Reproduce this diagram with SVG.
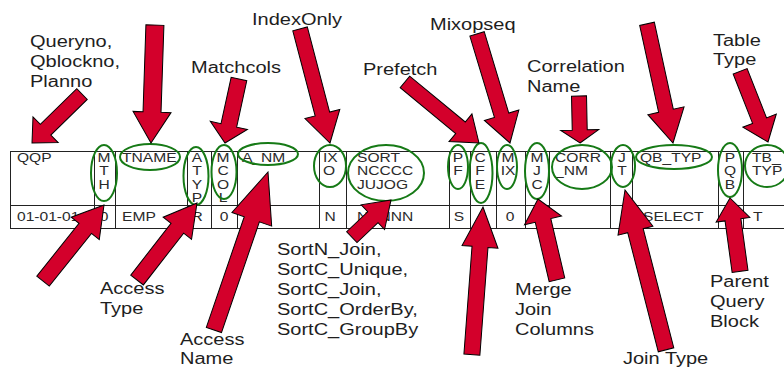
<svg xmlns="http://www.w3.org/2000/svg" width="784" height="369" viewBox="0 0 784 369">
  <style>
    .lbl { font-family: "Liberation Sans", Arial, sans-serif; font-size: 16px; fill: #1e1e1e; }
    .cell { font-family: "Liberation Sans", Arial, sans-serif; font-size: 13px; fill: #2a2a2a; }
    .mid { text-anchor: middle; }
    .grid { fill: none; stroke: #222; stroke-width: 1; }
    .ring { fill: none; stroke: #167a16; stroke-width: 2; }
    .arrow { fill: #d3002b; stroke: #000; stroke-width: 1; stroke-linejoin: miter; }
  </style>

  <rect width="784" height="369" fill="#fff"/>

  <!-- plan table -->
  <g id="table">
    <rect class="grid" x="10.5" y="151.5" width="780" height="77"/>
    <path class="grid" d="M10,205.5 H790
      M94.5,151 V228 M115.5,151 V228 M187.5,151 V228 M211.5,151 V228 M237.5,151 V228
      M319.5,151 V228 M346.5,151 V228 M449.5,151 V228 M470.5,151 V228 M496.5,151 V228
      M525.5,151 V228 M549.5,151 V228 M610.5,151 V228 M632.5,151 V228 M718.5,151 V228
      M743.5,151 V228"/>

    <!-- header row -->
    <g id="header">
      <text class="cell" transform="translate(17,162) scale(1.2,1)">QQP</text>
      <text class="cell mid" transform="translate(104,162) scale(1.2,1)"><tspan x="0">M</tspan><tspan x="0" dy="13.5">T</tspan><tspan x="0" dy="13.5">H</tspan></text>
      <text class="cell" transform="translate(122,162) scale(1.2,1)">TNAME</text>
      <text class="cell mid" transform="translate(197,162) scale(1.2,1)"><tspan x="0">A</tspan><tspan x="0" dy="13.5">T</tspan><tspan x="0" dy="13.5">Y</tspan><tspan x="0" dy="13.5">P</tspan></text>
      <text class="cell mid" transform="translate(223,162) scale(1.2,1)"><tspan x="0">M</tspan><tspan x="0" dy="13.5">C</tspan><tspan x="0" dy="13.5">O</tspan><tspan x="0" dy="13.5">L</tspan></text>
      <text class="cell" transform="translate(242,162) scale(1.2,1)">A_NM</text>
      <text class="cell" transform="translate(323,162) scale(1.2,1)"><tspan x="0">IX</tspan><tspan x="0" dy="13.5">O</tspan></text>
      <text class="cell" transform="translate(357,162) scale(1.2,1)"><tspan x="0">SORT</tspan><tspan x="0" dy="13.5">NCCCC</tspan><tspan x="0" dy="13.5">JUJOG</tspan></text>
      <text class="cell mid" transform="translate(458,162) scale(1.2,1)"><tspan x="0">P</tspan><tspan x="0" dy="13.5">F</tspan></text>
      <text class="cell mid" transform="translate(480,162) scale(1.2,1)"><tspan x="0">C</tspan><tspan x="0" dy="13.5">F</tspan><tspan x="0" dy="13.5">E</tspan></text>
      <text class="cell mid" transform="translate(508,162) scale(1.2,1)"><tspan x="0">M</tspan><tspan x="0" dy="13.5">IX</tspan></text>
      <text class="cell mid" transform="translate(537,162) scale(1.2,1)"><tspan x="0">M</tspan><tspan x="0" dy="13.5">J</tspan><tspan x="0" dy="13.5">C</tspan></text>
      <text class="cell" transform="translate(555,162) scale(1.2,1)"><tspan x="0">CORR</tspan><tspan x="0" dy="13.5">_NM</tspan></text>
      <text class="cell mid" transform="translate(622,162) scale(1.2,1)"><tspan x="0">J</tspan><tspan x="0" dy="13.5">T</tspan></text>
      <text class="cell" transform="translate(640,162) scale(1.2,1)">QB_TYP</text>
      <text class="cell mid" transform="translate(730,162) scale(1.2,1)"><tspan x="0">P</tspan><tspan x="0" dy="13.5">Q</tspan><tspan x="0" dy="13.5">B</tspan></text>
      <text class="cell" transform="translate(752,162) scale(1.2,1)"><tspan x="0">TB_</tspan><tspan x="0" dy="13.5">TYP</tspan></text>
    </g>

    <!-- data row -->
    <g id="row1">
      <text class="cell" transform="translate(17,221) scale(1.2,1)">01-01-01</text>
      <text class="cell mid" transform="translate(104,221) scale(1.2,1)">0</text>
      <text class="cell" transform="translate(122,221) scale(1.2,1)">EMP</text>
      <text class="cell mid" transform="translate(197,221) scale(1.2,1)">R</text>
      <text class="cell mid" transform="translate(224,221) scale(1.2,1)">0</text>
      <text class="cell mid" transform="translate(330,221) scale(1.2,1)">N</text>
      <text class="cell" transform="translate(357,221) scale(1.2,1)">NNNNN</text>
      <text class="cell mid" transform="translate(459,221) scale(1.2,1)">S</text>
      <text class="cell mid" transform="translate(510,221) scale(1.2,1)">0</text>
      <text class="cell" transform="translate(643,221) scale(1.2,1)">SELECT</text>
      <text class="cell" transform="translate(753,221) scale(1.2,1)">T</text>
    </g>
  </g>

  <!-- highlighted columns -->
  <g id="rings">
    <ellipse class="ring" cx="104" cy="173" rx="13" ry="28"/>
    <ellipse class="ring" cx="150" cy="157" rx="30" ry="13"/>
    <ellipse class="ring" cx="196" cy="176" rx="12.5" ry="29"/>
    <ellipse class="ring" cx="224" cy="172" rx="12.5" ry="27"/>
    <ellipse class="ring" cx="268" cy="154" rx="30" ry="11"/>
    <ellipse class="ring" cx="330" cy="166" rx="16" ry="21"/>
    <ellipse class="ring" cx="386" cy="173" rx="38" ry="28"/>
    <ellipse class="ring" cx="458" cy="167" rx="10" ry="22"/>
    <ellipse class="ring" cx="481" cy="173" rx="11.5" ry="30"/>
    <ellipse class="ring" cx="507" cy="167" rx="10" ry="22"/>
    <ellipse class="ring" cx="537" cy="171" rx="12" ry="28"/>
    <ellipse class="ring" cx="582" cy="167" rx="30" ry="22"/>
    <ellipse class="ring" cx="623" cy="166" rx="12" ry="21"/>
    <ellipse class="ring" cx="674" cy="157" rx="38" ry="12"/>
    <ellipse class="ring" cx="730" cy="170" rx="12" ry="27"/>
    <ellipse class="ring" cx="767" cy="166" rx="22" ry="21"/>
  </g>

  <!-- callout labels -->
  <g id="labels">
    <g id="lbl-queryno"><text class="lbl" transform="translate(30,47) scale(1.25,1)"><tspan x="0">Queryno,</tspan><tspan x="0" dy="20">Qblockno,</tspan><tspan x="0" dy="20">Planno</tspan></text></g>
    <g id="lbl-matchcols"><text class="lbl" transform="translate(191,73) scale(1.25,1)">Matchcols</text></g>
    <g id="lbl-indexonly"><text class="lbl" transform="translate(252,25) scale(1.25,1)">IndexOnly</text></g>
    <g id="lbl-prefetch"><text class="lbl" transform="translate(363,75) scale(1.25,1)">Prefetch</text></g>
    <g id="lbl-mixopseq"><text class="lbl" transform="translate(430,30) scale(1.25,1)">Mixopseq</text></g>
    <g id="lbl-corr"><text class="lbl" transform="translate(527,72) scale(1.25,1)"><tspan x="0">Correlation</tspan><tspan x="0" dy="20">Name</tspan></text></g>
    <g id="lbl-tabtype"><text class="lbl" transform="translate(713,46) scale(1.25,1)"><tspan x="0">Table</tspan><tspan x="0" dy="19">Type</tspan></text></g>
    <g id="lbl-acctype"><text class="lbl" transform="translate(100,294) scale(1.25,1)"><tspan x="0">Access</tspan><tspan x="0" dy="20">Type</tspan></text></g>
    <g id="lbl-accname"><text class="lbl" transform="translate(180,345) scale(1.25,1)"><tspan x="0">Access</tspan><tspan x="0" dy="19">Name</tspan></text></g>
    <g id="lbl-sort"><text class="lbl" transform="translate(277,255) scale(1.25,1)"><tspan x="0">SortN_Join,</tspan><tspan x="0" dy="20">SortC_Unique,</tspan><tspan x="0" dy="20">SortC_Join,</tspan><tspan x="0" dy="20">SortC_OrderBy,</tspan><tspan x="0" dy="20">SortC_GroupBy</tspan></text></g>
    <g id="lbl-merge"><text class="lbl" transform="translate(515,295) scale(1.25,1)"><tspan x="0">Merge</tspan><tspan x="0" dy="20">Join</tspan><tspan x="0" dy="20">Columns</tspan></text></g>
    <g id="lbl-jointype"><text class="lbl" transform="translate(623,364) scale(1.25,1)">Join Type</text></g>
    <g id="lbl-parent"><text class="lbl" transform="translate(710,287) scale(1.25,1)"><tspan x="0">Parent</tspan><tspan x="0" dy="20">Query</tspan><tspan x="0" dy="20">Block</tspan></text></g>
  </g>

  <!-- block arrows: tip at the origin, pointing along +x -->
  <g id="connectors">
    <path class="arrow" transform="translate(32,143) rotate(135.6)" d="M0,0 L-19,-18 L-19,-7.5 L-70,-7.5 L-70,7.5 L-19,7.5 L-19,18 Z"/>
    <path class="arrow" transform="translate(151,143) rotate(91.9)" d="M0,0 L-31,-19 L-31,-9 L-118,-9 L-118,9 L-31,9 L-31,19 Z"/>
    <path class="arrow" transform="translate(225,143) rotate(102.3)" d="M0,0 L-18,-19 L-18,-8 L-65.5,-8 L-65.5,8 L-18,8 L-18,19 Z"/>
    <path class="arrow" transform="translate(330,143) rotate(75.3)" d="M0,0 L-30,-18 L-30,-7.5 L-118,-7.5 L-118,7.5 L-30,7.5 L-30,18 Z"/>
    <path class="arrow" transform="translate(479,143) rotate(39.5)" d="M0,0 L-24,-18 L-24,-7.5 L-96,-7.5 L-96,7.5 L-24,7.5 L-24,18 Z"/>
    <path class="arrow" transform="translate(510,143) rotate(73.2)" d="M0,0 L-29,-18 L-29,-7.5 L-114,-7.5 L-114,7.5 L-29,7.5 L-29,18 Z"/>
    <path class="arrow" transform="translate(580,143) rotate(88.8)" d="M0,0 L-13,-19 L-13,-7.5 L-47,-7.5 L-47,7.5 L-13,7.5 L-13,19 Z"/>
    <path class="arrow" transform="translate(673,143) rotate(77.7)" d="M0,0 L-33,-18.5 L-33,-7.5 L-122,-7.5 L-122,7.5 L-33,7.5 L-33,18.5 Z"/>
    <path class="arrow" transform="translate(768,142) rotate(68.5)" d="M0,0 L-23,-18 L-23,-7.5 L-76,-7.5 L-76,7.5 L-23,7.5 L-23,18 Z"/>

    <path class="arrow" transform="translate(104,205) rotate(-51.3)" d="M0,0 L-30,-18 L-30,-8 L-97.5,-8 L-97.5,8 L-30,8 L-30,18 Z"/>
    <path class="arrow" transform="translate(197,203) rotate(-52.1)" d="M0,0 L-32,-18 L-32,-8 L-97.6,-8 L-97.6,8 L-32,8 L-32,18 Z"/>
    <path class="arrow" transform="translate(268,172) rotate(-71.1)" d="M0,0 L-50,-21 L-50,-8 L-167,-8 L-167,8 L-50,8 L-50,21 Z"/>
    <path class="arrow" transform="translate(391,200) rotate(-43.5)" d="M0,0 L-25,-17 L-25,-7.5 L-54,-7.5 L-54,7.5 L-25,7.5 L-25,17 Z"/>
    <path class="arrow" transform="translate(483,207) rotate(-85.7)" d="M0,0 L-40,-18 L-40,-8 L-148,-8 L-148,8 L-40,8 L-40,18 Z"/>
    <path class="arrow" transform="translate(538,199) rotate(-103.2)" d="M0,0 L-22,-19 L-22,-8 L-83,-8 L-83,8 L-22,8 L-22,19 Z"/>
    <path class="arrow" transform="translate(625,190) rotate(-104.4)" d="M0,0 L-42,-18 L-42,-8 L-165,-8 L-165,8 L-42,8 L-42,18 Z"/>
    <path class="arrow" transform="translate(730,198) rotate(-97.8)" d="M0,0 L-22,-17 L-22,-8 L-74,-8 L-74,8 L-22,8 L-22,17 Z"/>
  </g>
</svg>
